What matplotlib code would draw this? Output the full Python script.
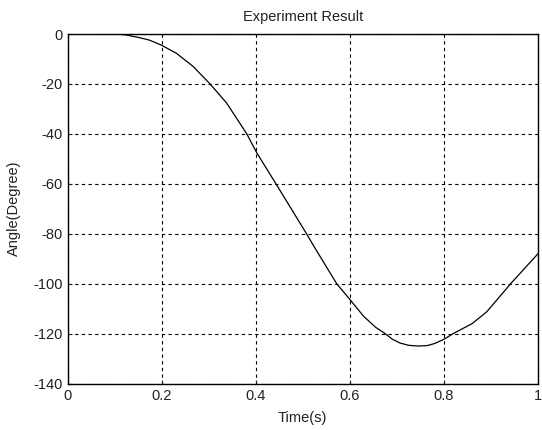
import matplotlib
matplotlib.use("Agg")
import matplotlib.pyplot as plt

time_s = [0.094, 0.122, 0.154, 0.175, 0.2, 0.232, 0.267, 0.303, 0.338, 0.381,
          0.402, 0.443, 0.508, 0.522, 0.572, 0.6, 0.629, 0.655, 0.675, 0.69,
          0.707, 0.725, 0.746, 0.765, 0.78, 0.8, 0.82, 0.86, 0.891, 0.942, 1.0]
angle_deg = [0.0, -0.3, -1.5, -2.5, -4.5, -7.8, -13.0, -20.0, -27.6, -40.0,
             -47.5, -60.0, -80.0, -84.5, -100.0, -106.3, -113.0, -117.5, -120.0, -122.2,
             -123.8, -124.7, -125.0, -124.8, -124.0, -122.3, -120.0, -116.0, -111.3, -100.0, -88.0]
xticks = [0, 0.2, 0.4, 0.6, 0.8, 1]
xticklabels = ["0", "0.2", "0.4", "0.6", "0.8", "1"]
yticks = [-140, -120, -100, -80, -60, -40, -20, 0]
yticklabels = ["-140", "-120", "-100", "-80", "-60", "-40", "-20", "0"]

plt.rcParams['font.family'] = ['Liberation Sans', 'DejaVu Sans']
plt.rcParams['font.size'] = 10.5

fig = plt.figure(figsize=(5.42, 4.30), dpi=100)
ax = fig.add_axes([67.5/542, 1 - 383.5/430, (538 - 67.5)/542, (383.5 - 34)/430])
ax.plot(time_s, angle_deg, color='black', linewidth=0.9)
ax.set_xlim(0, 1)
ax.set_ylim(-140, 0)
ax.set_xticks(xticks)
ax.set_xticklabels(xticklabels)
ax.set_yticks(yticks)
ax.set_yticklabels(yticklabels)
ax.grid(True, color='black', linestyle=(0, (3, 3)), linewidth=0.8)
ax.tick_params(direction='in', length=3, width=0.8, colors='#222222')
ax.tick_params(axis='x', pad=4)
ax.tick_params(axis='y', pad=3.5)
for s in ax.spines.values():
    s.set_linewidth(1.0)
    s.set_color('black')
ax.set_title("Experiment Result", fontsize=10.5, pad=9.5, color='#222222')
ax.set_xlabel("Time(s)", fontsize=10.5, color='#222222')
ax.set_ylabel("Angle(Degree)", fontsize=10.5, color='#222222')
ax.xaxis.set_label_coords(0.5, -0.080)
ax.yaxis.set_label_coords(-0.098, 0.5)
fig.savefig("out.png", dpi=100, facecolor='white')
